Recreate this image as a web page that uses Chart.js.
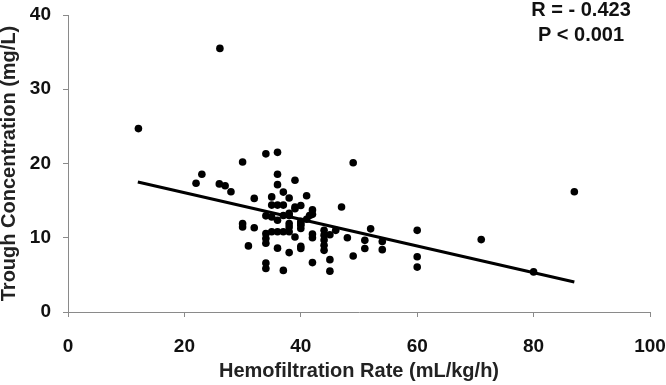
<!DOCTYPE html>
<html>
<head>
<meta charset="utf-8">
<script src="https://cdn.jsdelivr.net/npm/chart.js@4.4.1/dist/chart.umd.min.js"></script>
<style>
html,body{margin:0;padding:0;background:#fff;}
#wrap{position:relative;width:666px;height:385px;}
</style>
</head>
<body>
<div id="wrap"><canvas id="c" width="666" height="385"></canvas></div>
<script>
// Hemofiltration rate (mL/kg/h) for each patient sample
const rateX = [12.1, 26.1, 22, 23, 26, 27, 28, 30, 30, 30, 31, 32, 32,
  34, 34, 34, 34, 34, 34, 34, 35, 35, 35, 35,
  36, 36, 36, 36, 36, 36, 36, 37, 37, 37, 37, 37,
  38, 38, 38, 38, 38, 38, 38, 39, 39, 39, 39,
  40, 40, 40, 40, 40, 40, 40, 41, 41, 41.5,
  42, 42, 42, 42, 42, 44, 44, 44, 44, 44, 45, 45, 45, 46, 47, 48,
  49, 49, 51, 51, 52, 54, 54, 60, 60, 60, 71, 80, 87];
// Trough concentration (mg/L)
const troughY = [24.7, 35.5, 17.35, 18.55, 17.25, 17.0, 16.2, 20.2, 11.9, 11.45, 8.9, 15.3, 11.35,
  21.3, 12.95, 10.55, 9.9, 9.25, 6.6, 5.85, 15.5, 14.4, 12.8, 10.8,
  21.5, 18.55, 17.15, 14.4, 12.35, 10.8, 8.6, 16.15, 14.4, 13.0, 10.8, 5.6,
  15.35, 13.3, 11.9, 11.45, 10.8, 8.0, 13.0, 17.75, 13.9, 14.15, 10.1,
  14.35, 12.2, 11.7, 11.25, 8.85, 8.55, 11.9, 15.65, 12.5, 13.0,
  13.75, 13.15, 10.5, 10.0, 6.65, 11.0, 10.35, 9.7, 9.0, 8.3, 10.4, 7.05, 5.5, 11.0, 14.15, 10.0,
  20.1, 7.55, 9.65, 8.55, 11.2, 9.5, 8.4, 11.0, 7.45, 6.05, 9.75, 5.4, 16.2];
// Linear regression line end points
const trendX = [12, 87];
const trendY = [17.5, 4.05];
// Axis ticks
const xTicks = [0, 20, 40, 60, 80, 100];
const yTicks = [0, 10, 20, 30, 40];
const statLines = ['R = - 0.423', 'P < 0.001'];

const points = rateX.map((x, i) => ({x: x, y: troughY[i]}));
const trend = trendX.map((x, i) => ({x: x, y: trendY[i]}));

const FONT = '"Liberation Sans", Arial, sans-serif';

const statsPlugin = {
  id: 'stats',
  afterDraw(chart) {
    const ctx = chart.ctx;
    ctx.save();
    ctx.fillStyle = '#111';
    ctx.font = 'bold 20px ' + FONT;
    ctx.textAlign = 'center';
    ctx.textBaseline = 'alphabetic';
    ctx.fillText(statLines[0], 581, 16);
    ctx.fillText(statLines[1], 581, 40.5);
    ctx.restore();
  }
};

new Chart(document.getElementById('c'), {
  type: 'scatter',
  data: {
    datasets: [
      {
        type: 'line',
        data: trend,
        borderColor: '#000',
        borderWidth: 3,
        pointRadius: 0,
        fill: false,
        tension: 0
      },
      {
        data: points,
        backgroundColor: '#000',
        borderColor: '#000',
        pointRadius: 3.8,
        pointBorderWidth: 0
      }
    ]
  },
  options: {
    responsive: false,
    animation: false,
    devicePixelRatio: 1,
    layout: {autoPadding: false, padding: {top: 15, right: 16, left: 0, bottom: 0}},
    plugins: {legend: {display: false}, tooltip: {enabled: false}},
    scales: {
      x: {
        type: 'linear',
        min: 0, max: 100,
        afterBuildTicks(s) { s.ticks = xTicks.map(v => ({value: v})); },
        afterFit(s) { s.height = 73; s.paddingLeft = 0; s.paddingRight = 0; },
        grid: {drawOnChartArea: false, drawTicks: true, tickLength: 5, color: '#8a8a8a'},
        border: {color: '#8a8a8a', width: 1},
        ticks: {color: '#111', padding: 18, maxRotation: 0, font: {family: FONT, size: 19, weight: 'bold'}},
        title: {display: true, text: 'Hemofiltration Rate (mL/kg/h)', color: '#222',
          font: {family: FONT, size: 20, weight: 'bold'}, padding: {top: 0, bottom: 2}}
      },
      y: {
        type: 'linear',
        min: 0, max: 40,
        afterBuildTicks(s) { s.ticks = yTicks.map(v => ({value: v})); },
        afterFit(s) { s.width = 68; s.paddingTop = 0; s.paddingBottom = 0; },
        grid: {drawOnChartArea: false, drawTicks: true, tickLength: 5, color: '#8a8a8a'},
        border: {color: '#8a8a8a', width: 1},
        ticks: {color: '#111', padding: 12, font: {family: FONT, size: 19, weight: 'bold'}},
        title: {display: true, text: 'Trough Concentration (mg/L)', color: '#222',
          font: {family: FONT, size: 20, weight: 'bold', lineHeight: 0.95}, padding: {top: 0, bottom: 0}}
      }
    }
  },
  plugins: [statsPlugin]
});
</script>
</body>
</html>
